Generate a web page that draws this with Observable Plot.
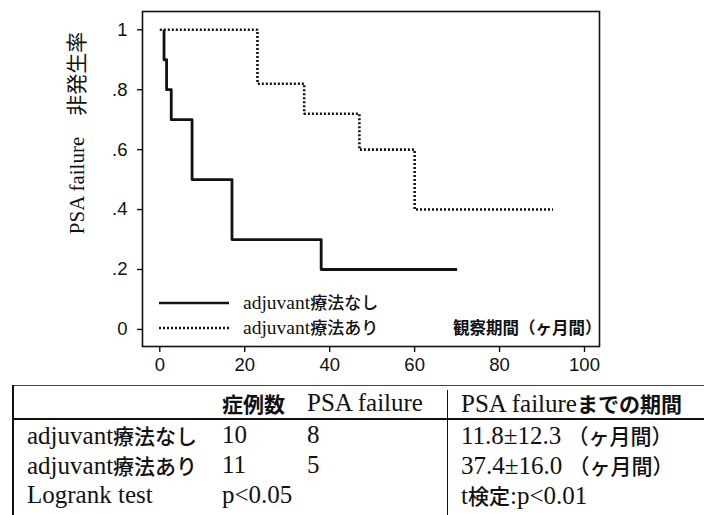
<!DOCTYPE html>
<html>
<head>
<meta charset="utf-8">
<script src="https://cdn.jsdelivr.net/npm/d3@7"></script>
<script src="https://cdn.jsdelivr.net/npm/@observablehq/plot@0.6"></script>
<style>
  html, body { margin: 0; padding: 0; background: white; }
  #wrap { position: relative; width: 704px; height: 515px; overflow: hidden; background: white; }
  #chart { position: absolute; left: 0; top: 0; }
  .abs { position: absolute; }
  .cell { position: absolute; white-space: nowrap; font-family: "Liberation Serif", serif; font-size: 25px; line-height: 30px; color: #111; }
  .cjk { font-family: "Noto Sans CJK JP", sans-serif; font-weight: 500; font-size: 21px; }
  .cjkb { font-family: "Noto Sans CJK JP", sans-serif; font-weight: bold; font-size: 21px; }
  .hl { position: absolute; background: #111; }
</style>
</head>
<body>
<div id="wrap">
  <div id="chart"></div>
  <svg id="legend" class="abs" width="704" height="378" style="left:0;top:0;pointer-events:none"></svg>
  <div id="table"></div>
</div>
<script>
// ---- data ----
const timeNashi = [1, 1, 1.6, 2.7, 7.6, 17, 38, 70];
const survNashi = [1, 0.9, 0.8, 0.7, 0.5, 0.3, 0.2, 0.2];
const timeAri = [0, 23, 34, 47, 60, 92.6];
const survAri = [1, 0.82, 0.72, 0.6, 0.4, 0.4];
const seriesNames = ["adjuvant療法なし", "adjuvant療法あり"];
const xTicks = [0, 20, 40, 60, 80, 100];
const yTicks = [0, 0.2, 0.4, 0.6, 0.8, 1];
const yTickLabels = ["0", ".2", ".4", ".6", ".8", "1"];
const yLabel = "PSA failure　非発生率";
const xLabel = "観察期間（ヶ月間）";
const tableHeader = ["", "症例数", "PSA failure", "PSA failureまでの期間"];
const tableRowLabels = ["adjuvant療法なし", "adjuvant療法あり", "Logrank test"];
const casesCol = ["10", "11", "p<0.05"];
const failureCol = ["8", "5", ""];
const periodCol = ["11.8±12.3 （ヶ月間）", "37.4±16.0 （ヶ月間）", "t検定:p<0.01"];

const nashi = timeNashi.map((t, i) => ({t, s: survNashi[i]}));
const ari = timeAri.map((t, i) => ({t, s: survAri[i]}));
const DOTS = "2,2";

const chart = Plot.plot({
  width: 704,
  height: 378,
  marginLeft: 142,
  marginRight: 105,
  marginTop: 11,
  marginBottom: 32,
  x: {domain: [-4.07, 103.53]},
  y: {domain: [-0.057, 1.061]},
  style: {fontFamily: "'Liberation Sans', Arial, sans-serif", fontSize: "18px", color: "#111", background: "white"},
  marks: [
    Plot.frame({stroke: "#111", strokeWidth: 1.6}),
    Plot.axisX({ticks: xTicks, tickSize: 6, tickPadding: 5, label: null, fontSize: 18.5, strokeWidth: 1.4}),
    Plot.axisY({ticks: yTicks, tickFormat: d => yTickLabels[yTicks.indexOf(d)], tickSize: 5, tickPadding: 10, label: null, fontSize: 18.5, strokeWidth: 1.4}),
    Plot.line(nashi, {x: "t", y: "s", curve: "step-after", stroke: "#111", strokeWidth: 2.8, strokeLinecap: "butt"}),
    Plot.line(ari, {x: "t", y: "s", curve: "step-after", stroke: "#111", strokeWidth: 2.6, strokeDasharray: DOTS, strokeLinecap: "butt", strokeLinejoin: "miter"}),
    Plot.text([xLabel], {frameAnchor: "bottom-right", textAnchor: "end", lineAnchor: "middle", dx: 2, dy: -18,
      fontFamily: "'Noto Sans CJK JP', sans-serif", fontWeight: "bold", fontSize: 16.5}),
    Plot.text([yLabel], {frameAnchor: "left", rotate: -90, textAnchor: "middle", lineAnchor: "middle", dx: -65, dy: -46,
      fontFamily: "'Liberation Serif', 'Noto Sans CJK JP', serif", fontSize: 21})
  ]
});
document.getElementById("chart").appendChild(chart);

// ---- legend (overlay) ----
const lg = d3.select("#legend");
const legendRows = [{y: 303, dash: null}, {y: 328, dash: DOTS}];
seriesNames.forEach((name, i) => {
  const r = legendRows[i];
  lg.append("line").attr("x1", 159).attr("x2", 229).attr("y1", r.y).attr("y2", r.y)
    .attr("stroke", "#111").attr("stroke-width", 2.6).attr("stroke-dasharray", r.dash);
  const t = lg.append("text").attr("x", 243).attr("y", r.y).attr("dy", "0.35em").attr("fill", "#111");
  t.append("tspan").attr("font-family", "'Liberation Serif', serif").attr("font-size", 19.5).text(name.replace(/[^\x00-\x7f]+/g, ""));
  t.append("tspan").attr("font-family", "'Noto Sans CJK JP', sans-serif").attr("font-size", 17).attr("font-weight", 500).text(name.replace(/[\x00-\x7f]+/g, ""));
});

// ---- table ----
const tbl = document.getElementById("table");
function rich(str, cls) {
  return str.replace(/([^\x00-\x7f±]+)/g, `<span class="${cls}">$1</span>`);
}
function addLine(style) {
  const d = document.createElement("div");
  d.className = "hl";
  Object.assign(d.style, style);
  tbl.appendChild(d);
}
addLine({left: "12px", top: "385px", width: "692px", height: "1px", background: "#444"});
addLine({left: "12px", top: "385px", width: "1.5px", height: "130px"});
addLine({left: "12px", top: "418px", width: "692px", height: "2px"});
addLine({left: "447px", top: "390px", width: "1px", height: "125px"});

const colX = [27, 222, 307, 461];
const rowY = [403, 435, 465, 495];
function addCell(text, x, yc, cls) {
  const d = document.createElement("div");
  d.className = "cell";
  d.style.left = x + "px";
  d.style.top = (yc - 15) + "px";
  d.innerHTML = rich(text, cls);
  tbl.appendChild(d);
}
tableHeader.forEach((h, j) => { if (h) addCell(h, colX[j], rowY[0], "cjkb"); });
tableRowLabels.forEach((lab, i) => {
  addCell(lab, colX[0], rowY[i + 1], "cjk");
  addCell(casesCol[i], colX[1], rowY[i + 1], "cjk");
  if (failureCol[i]) addCell(failureCol[i], colX[2], rowY[i + 1], "cjk");
  addCell(periodCol[i], colX[3], rowY[i + 1], "cjk");
});
</script>
</body>
</html>
